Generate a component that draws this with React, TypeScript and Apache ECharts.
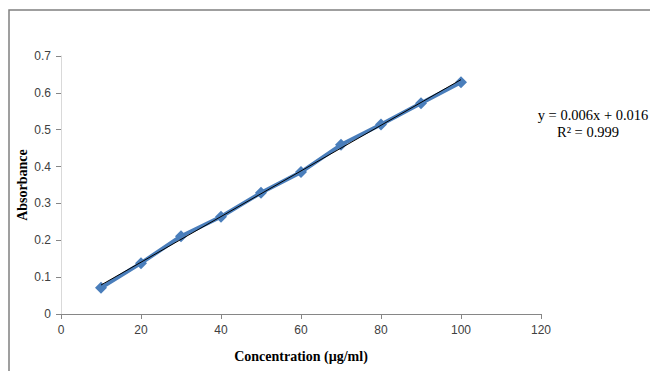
import React, { useEffect, useRef } from "react";
import * as echarts from "echarts";

const concentrations = [10, 20, 30, 40, 50, 60, 70, 80, 90, 100];
const absorbances = [0.071, 0.138, 0.211, 0.264, 0.329, 0.385, 0.459, 0.514, 0.572, 0.629];
const equationText = "y = 0.006x + 0.016";
const r2Text = "R² = 0.999";
const xTitle = "Concentration (µg/ml)";
const yTitle = "Absorbance";

function linearFit(xs: number[], ys: number[]) {
  const n = xs.length;
  const mx = xs.reduce((a, b) => a + b, 0) / n;
  const my = ys.reduce((a, b) => a + b, 0) / n;
  let sxy = 0, sxx = 0;
  for (let i = 0; i < n; i++) {
    sxy += (xs[i] - mx) * (ys[i] - my);
    sxx += (xs[i] - mx) * (xs[i] - mx);
  }
  const slope = sxy / sxx;
  return { slope, intercept: my - slope * mx };
}

export default function App() {
  const ref = useRef<HTMLDivElement>(null);
  useEffect(() => {
    if (!ref.current) return;
    const chart = echarts.init(ref.current, null, { renderer: "svg" });
    const fit = linearFit(concentrations, absorbances);
    const x0 = concentrations[0];
    const x1 = concentrations[concentrations.length - 1];
    const trend = [
      [x0, fit.intercept + fit.slope * x0],
      [x1, fit.intercept + fit.slope * x1],
    ];
    chart.setOption({
      animation: false,
      backgroundColor: "#ffffff",
      grid: { left: 61, right: 109, top: 56, bottom: 57 },
      xAxis: {
        type: "value",
        min: 0,
        max: 120,
        interval: 20,
        name: xTitle,
        nameLocation: "middle",
        nameGap: 35,
        nameTextStyle: { fontFamily: "Liberation Serif", fontWeight: "bold", fontSize: 14, color: "#000" },
        axisLine: { show: true, lineStyle: { color: "#868686", width: 1 } },
        axisTick: { show: true, length: 5, lineStyle: { color: "#868686" } },
        axisLabel: { fontFamily: "Liberation Sans", fontSize: 12, color: "#404040", margin: 10 },
        splitLine: { show: false },
      },
      yAxis: {
        type: "value",
        min: 0,
        max: 0.7,
        interval: 0.1,
        name: yTitle,
        nameLocation: "middle",
        nameGap: 32,
        nameRotate: 90,
        nameMoveOverlap: false,
        nameTextStyle: { fontFamily: "Liberation Serif", fontWeight: "bold", fontSize: 14, color: "#000" },
        axisLine: { show: true, lineStyle: { color: "#d9d9d9", width: 1 } },
        axisTick: { show: true, length: 5, lineStyle: { color: "#868686" } },
        axisLabel: { fontFamily: "Liberation Sans", fontSize: 12, color: "#404040", margin: 10 },
        splitLine: { show: false },
      },
      graphic: [
        {
          type: "polyline",
          shape: { points: [[9, 371], [9, 10], [650, 10]] },
          style: { stroke: "#808080", lineWidth: 1.5, fill: "none" },
        },
        {
          type: "text",
          x: 593,
          y: 115,
          style: {
            text: equationText,
            fontFamily: "Liberation Serif",
            fontSize: 14.5,
            fill: "#000",
            align: "center",
            verticalAlign: "middle",
          },
        },
        {
          type: "text",
          x: 588,
          y: 132,
          style: {
            text: r2Text,
            fontFamily: "Liberation Serif",
            fontSize: 14.5,
            fill: "#000",
            align: "center",
            verticalAlign: "middle",
          },
        },
      ],
      series: [
        {
          type: "line",
          data: concentrations.map((c, i) => [c, absorbances[i]]),
          symbol: "diamond",
          symbolSize: 12,
          itemStyle: { color: "#4A7EBB" },
          lineStyle: { color: "#4A7EBB", width: 4 },
          z: 2,
        },
        {
          type: "line",
          data: trend,
          symbol: "none",
          lineStyle: { color: "#000000", width: 1 },
          z: 3,
        },
      ],
    });
    return () => chart.dispose();
  }, []);
  return <div ref={ref} style={{ width: 650, height: 371, position: "absolute", left: 0, top: 0 }} />;
}
